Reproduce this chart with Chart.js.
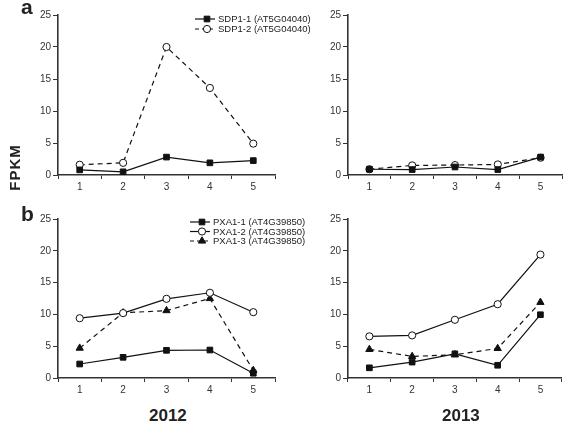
<!DOCTYPE html>
<html>
<head>
<meta charset="utf-8">
<title>SDP1 / PXA1 FPKM</title>
<script src="https://cdn.jsdelivr.net/npm/chart.js@4.4.1/dist/chart.umd.min.js"></script>
<style>
  html, body { margin: 0; padding: 0; background: #fff; }
  #wrap { position: relative; width: 567px; height: 423px; overflow: hidden; font-family: "Liberation Sans", Arial, sans-serif; color: #222; }
  canvas { position: absolute; }
  .lbl { position: absolute; font-weight: bold; line-height: 1; white-space: nowrap; }
</style>
</head>
<body>
<div id="wrap">
  <canvas id="a2012" width="330" height="200" style="left:0;top:0"></canvas>
  <canvas id="b2012" width="330" height="203" style="left:0;top:200px"></canvas>
  <canvas id="a2013" width="277" height="200" style="left:290px;top:0"></canvas>
  <canvas id="b2013" width="277" height="203" style="left:290px;top:200px"></canvas>
  <div class="lbl" style="left:21px;top:-4px;font-size:21px">a</div>
  <div class="lbl" style="left:21px;top:203px;font-size:21px">b</div>
  <div class="lbl" style="left:-9px;top:160px;font-size:15px;letter-spacing:1px;transform:rotate(-90deg)">FPKM</div>
  <div class="lbl" style="left:149px;top:407px;font-size:17px">2012</div>
  <div class="lbl" style="left:442px;top:407px;font-size:17px">2013</div>
</div>
<script>
// ===================== Data =====================
const categories = ['1', '2', '3', '4', '5'];
const yTicks = [0, 5, 10, 15, 20, 25];

const sdpNames = ['SDP1-1 (AT5G04040)', 'SDP1-2 (AT5G04040)'];
const pxaNames = ['PXA1-1 (AT4G39850)', 'PXA1-2 (AT4G39850)', 'PXA1-3 (AT4G39850)'];

const sdp1_1_2012 = [0.8, 0.5, 2.8, 1.9, 2.25];
const sdp1_2_2012 = [1.6, 1.9, 20.0, 13.6, 4.9];
const sdp1_1_2013 = [0.9, 0.85, 1.25, 0.85, 2.8];
const sdp1_2_2013 = [0.9, 1.5, 1.55, 1.65, 2.7];

const pxa1_1_2012 = [2.2, 3.25, 4.35, 4.4, 0.75];
const pxa1_2_2012 = [9.4, 10.2, 12.45, 13.4, 10.35];
const pxa1_3_2012 = [4.7, 10.25, 10.6, 12.5, 1.2];
const pxa1_1_2013 = [1.6, 2.5, 3.8, 2.0, 9.95];
const pxa1_2_2013 = [6.55, 6.7, 9.15, 11.6, 19.4];
const pxa1_3_2013 = [4.5, 3.4, 3.65, 4.65, 11.9];

// ===================== Styles =====================
const INK = '#111';
const TICK_FONT = { family: '"Liberation Sans", Arial, sans-serif', size: 10 };

const styleSquare = { pointStyle: 'rect', pointRadius: 4, pointBackgroundColor: INK };
const styleCircle = { pointStyle: 'circle', pointRadius: 3.6, pointBackgroundColor: '#fff' };
const styleTriangle = { pointStyle: 'triangle', pointRadius: 4.2, pointBackgroundColor: INK };

function series(label, values, style, dashed) {
  return Object.assign({
    label: label,
    data: values,
    borderColor: INK,
    borderWidth: 1.2,
    pointBorderColor: INK,
    pointBorderWidth: 1,
    tension: 0
  }, style, { borderDash: dashed ? [5, 4] : [] });
}

// simple legend: line segment + marker + text, drawn at fixed spot
const miniLegend = {
  id: 'miniLegend',
  afterDraw: function (chart, args, opts) {
    if (!opts.show) return;
    const ctx = chart.ctx;
    ctx.save();
    chart.data.datasets.forEach(function (ds, i) {
      const y = opts.top + i * opts.rowGap;
      ctx.strokeStyle = INK;
      ctx.lineWidth = ds.borderWidth;
      ctx.setLineDash(ds.borderDash.length ? [4, 3] : []);
      ctx.beginPath();
      ctx.moveTo(opts.left, y);
      ctx.lineTo(opts.left + 20, y);
      ctx.stroke();
      ctx.setLineDash([]);
      ctx.fillStyle = ds.pointBackgroundColor;
      ctx.strokeStyle = INK;
      ctx.lineWidth = 1;
      Chart.helpers.drawPoint(ctx, { pointStyle: ds.pointStyle, radius: ds.pointRadius, borderWidth: 1, rotation: 0 }, opts.left + 12, y);
      ctx.fillStyle = '#222';
      ctx.font = '9.5px "Liberation Sans", Arial, sans-serif';
      ctx.textBaseline = 'middle';
      ctx.textAlign = 'left';
      ctx.fillText(ds.label, opts.left + 23, y + 0.5);
    });
    ctx.restore();
  }
};

function panel(id, datasets, pad, legend) {
  new Chart(document.getElementById(id), {
    type: 'line',
    data: { labels: categories, datasets: datasets },
    plugins: [miniLegend],
    options: {
      responsive: false,
      animation: false,
      layout: { padding: pad },
      plugins: {
        legend: { display: false },
        tooltip: { enabled: false },
        miniLegend: legend || { show: false }
      },
      scales: {
        x: {
          type: 'category',
          offset: true,
          afterFit: function (s) { s.height = 25; },
          grid: { offset: true, drawOnChartArea: false, drawTicks: true, tickLength: 4, color: '#333', lineWidth: 1 },
          border: { display: true, color: '#333', width: 1.6 },
          ticks: { color: '#333', font: TICK_FONT, padding: 2, maxRotation: 0 }
        },
        y: {
          type: 'linear',
          min: yTicks[0],
          max: yTicks[yTicks.length - 1],
          afterFit: function (s) { s.width = 58; },
          afterBuildTicks: function (s) { s.ticks = yTicks.map(function (v) { return { value: v }; }); },
          grid: { drawOnChartArea: false, drawTicks: true, tickLength: 5, color: '#333', lineWidth: 1 },
          border: { display: true, color: '#333', width: 1.6 },
          ticks: { color: '#333', font: TICK_FONT, padding: 2 }
        }
      }
    }
  });
}

// ===================== Panels =====================
panel('a2012', [
  series(sdpNames[0], sdp1_1_2012, styleSquare, false),
  series(sdpNames[1], sdp1_2_2012, styleCircle, true)
], { top: 15, right: 55, bottom: 0, left: 0 }, { show: true, left: 195, top: 19, rowGap: 10 });

panel('a2013', [
  series(sdpNames[0], sdp1_1_2013, styleSquare, false),
  series(sdpNames[1], sdp1_2_2013, styleCircle, true)
], { top: 15, right: 2, bottom: 0, left: 0 });

panel('b2012', [
  series(pxaNames[0], pxa1_1_2012, styleSquare, false),
  series(pxaNames[1], pxa1_2_2012, styleCircle, false),
  series(pxaNames[2], pxa1_3_2012, styleTriangle, true)
], { top: 19, right: 55, bottom: 0, left: 0 }, { show: true, left: 190, top: 22, rowGap: 9.5 });

panel('b2013', [
  series(pxaNames[0], pxa1_1_2013, styleSquare, false),
  series(pxaNames[1], pxa1_2_2013, styleCircle, false),
  series(pxaNames[2], pxa1_3_2013, styleTriangle, true)
], { top: 19, right: 2, bottom: 0, left: 0 });
</script>
</body>
</html>
